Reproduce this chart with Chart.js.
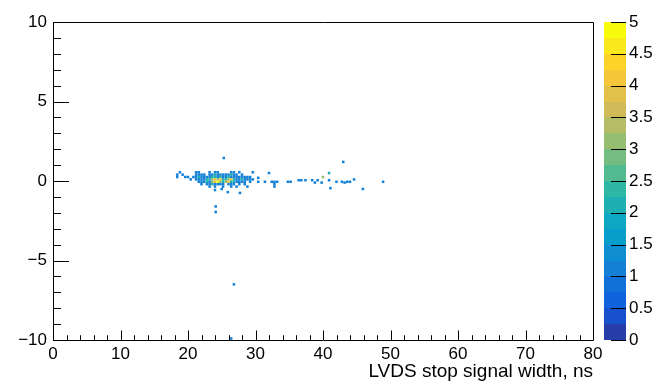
<!DOCTYPE html>
<html><head><meta charset="utf-8">
<script src="https://cdn.jsdelivr.net/npm/chart.js@4.4.1/dist/chart.umd.min.js"></script>
<style>html,body{margin:0;padding:0;background:#fff}#wrap{width:662px;height:386px;position:relative}</style>
</head><body><div id="wrap"><canvas id="c" width="662" height="386"></canvas></div>
<script>
// Axis ranges and tick labels
const xRange = [0, 80];
const yRange = [-10, 10];
const zRange = [0, 5];
const xTickStep = 10;
const yTickStep = 5;
const zTickStep = 0.5;
const xTitle = 'LVDS stop signal width, ns';

// Histogram cells (bin centres) and counts
const cellX = [
  // row y=0.55
  18.8,21.2,21.6,23.2,24.0,24.4,26.4,26.8,27.6,29.6,
  // row y=0.4
  18.4,19.2,21.2,21.6,22.0,22.4,23.2,23.6,24.0,24.4,24.8,25.2,25.6,26.0,26.4,26.8,27.2,28.0,
  // row y=0.25
  18.4,19.6,20.0,20.8,21.2,21.6,22.0,22.4,22.8,23.2,23.6,24.0,24.4,24.8,25.2,25.6,26.0,26.4,26.8,27.2,27.6,28.0,28.4,28.8,29.2,
  // row y=0.1
  20.4,21.2,21.6,22.0,22.4,22.8,23.2,23.6,24.0,24.4,24.8,25.2,25.6,26.0,26.4,26.8,27.2,27.6,28.0,28.4,28.8,29.2,29.6,
  // row y=-0.05
  21.6,22.0,22.4,22.8,23.2,23.6,24.0,24.4,24.8,25.2,25.6,26.0,26.4,26.8,27.2,27.6,28.0,28.4,29.2,
  // row y=-0.2
  22.0,22.8,23.2,23.6,24.0,24.4,24.8,25.2,26.0,26.4,26.8,27.6,28.4,
  // row y=-0.35
  23.2,24.0,25.2,26.4,27.2,28.8,
  // isolated cells
  25.3,24.0,25.0,25.9,27.7,24.1,24.1,26.8,26.4,
  30.4,30.4,31.4,32.0,32.4,32.8,32.8,33.2,32.8,34.8,35.2,36.4,36.8,37.4,38.4,38.8,39.2,39.8,40.0,40.9,40.9,41.1,
  42.0,42.8,43.2,43.6,44.0,44.6,43.0,45.9,48.9
];
const cellY = [
  0.55,0.55,0.55,0.55,0.55,0.55,0.55,0.55,0.55,0.55,
  0.4,0.4,0.4,0.4,0.4,0.4,0.4,0.4,0.4,0.4,0.4,0.4,0.4,0.4,0.4,0.4,0.4,0.4,
  0.25,0.25,0.25,0.25,0.25,0.25,0.25,0.25,0.25,0.25,0.25,0.25,0.25,0.25,0.25,0.25,0.25,0.25,0.25,0.25,0.25,0.25,0.25,0.25,0.25,
  0.1,0.1,0.1,0.1,0.1,0.1,0.1,0.1,0.1,0.1,0.1,0.1,0.1,0.1,0.1,0.1,0.1,0.1,0.1,0.1,0.1,0.1,0.1,
  -0.05,-0.05,-0.05,-0.05,-0.05,-0.05,-0.05,-0.05,-0.05,-0.05,-0.05,-0.05,-0.05,-0.05,-0.05,-0.05,-0.05,-0.05,-0.05,
  -0.2,-0.2,-0.2,-0.2,-0.2,-0.2,-0.2,-0.2,-0.2,-0.2,-0.2,-0.2,-0.2,
  -0.35,-0.35,-0.35,-0.35,-0.35,-0.35,
  1.45,-0.57,-0.5,-0.7,-0.75,-1.6,-1.95,-6.5,-9.9,
  0.2,-0.05,-0.05,0.5,-0.05,-0.05,-0.2,-0.05,-0.35,-0.05,-0.05,0.05,0.05,0.05,0.05,-0.1,0.05,-0.1,0.25,0.5,0.05,-0.45,
  -0.05,-0.05,-0.1,-0.05,-0.05,0.1,1.2,-0.5,-0.05
];
const cellZ = [
  1,1,1,1,1,1,1,1,1,1,
  1,1,1,1,1,1,1,1,2,1,1,1,1,1,2,1,1,1,
  1,1,1,1,1,2,1,1,1,1,2,2,1,2,1,1,2,1,1,1,1,1,1,1,1,
  1,1,1,1,1,2,2,3,4,3,4,2,2,3,4,2,1,1,2,1,1,1,1,
  1,1,1,2,1,3,4,5,3,2,3,4,2,2,1,1,1,1,1,
  1,1,1,2,1,1,1,1,1,1,1,1,1,
  1,1,1,1,1,1,
  1,1,1,1,1,1,1,1,1,
  1,1,1,1,1,1,1,1,1,1,1,1,1,1,1,1,1,1,3,2,1,1,
  1,1,1,1,1,1,1,1,1
];

// ROOT kBird palette
const birdStops = [0,0.125,0.25,0.375,0.5,0.625,0.75,0.875,1];
const birdR = [0.2082,0.0592,0.0780,0.0232,0.1802,0.5301,0.8186,0.9956,0.9764];
const birdG = [0.1664,0.3599,0.5041,0.6419,0.7178,0.7492,0.7328,0.7862,0.9832];
const birdB = [0.5293,0.8684,0.8385,0.7914,0.6425,0.4662,0.3499,0.1968,0.0539];
const nContours = 20;
function birdAt(p){
  p = Math.max(0, Math.min(1, p));
  let i = 0;
  while (i < birdStops.length - 2 && p > birdStops[i+1]) i++;
  const t = (p - birdStops[i]) / (birdStops[i+1] - birdStops[i]);
  const c = a => Math.round(255 * (a[i] + t * (a[i+1] - a[i])));
  return `rgb(${c(birdR)},${c(birdG)},${c(birdB)})`;
}
function bandColor(band){
  let idx = Math.floor((band + 0.99) * 255 / nContours);
  idx = Math.min(254, idx);
  return birdAt(idx / 254);
}
function colorFor(z){
  let band = Math.floor(0.01 + (z - zRange[0]) * nContours / (zRange[1] - zRange[0]));
  band = Math.min(nContours - 1, Math.max(0, band));
  return bandColor(band);
}

const FONT = 'Liberation Sans, Arial, Helvetica, sans-serif';
const minus = v => String(+v).replace('-', '\u2212');

const framePlugin = {
  id: 'rootFrame',
  beforeDatasetsDraw(chart){
    // colour bar
    const {ctx, chartArea} = chart;
    const z = chart.scales.z;
    const x0 = chartArea.right + 11, x1 = chartArea.right + 33;
    ctx.save();
    for (let b = 0; b < nContours; b++){
      const v0 = zRange[0] + b * (zRange[1]-zRange[0]) / nContours;
      const v1 = zRange[0] + (b+1) * (zRange[1]-zRange[0]) / nContours;
      const p0 = z.getPixelForValue(v0), p1 = z.getPixelForValue(v1);
      ctx.fillStyle = bandColor(b);
      ctx.fillRect(x0, Math.round(p1), x1 - x0, Math.round(p0) - Math.round(p1));
    }
    ctx.strokeStyle = '#000';
    ctx.lineWidth = 1;
    ctx.beginPath();
    for (let v = zRange[0]; v <= zRange[1] + 1e-9; v += zTickStep){
      const py = Math.round(z.getPixelForValue(v)) + 0.5;
      ctx.moveTo(x1, py); ctx.lineTo(x1 - 15, py);
    }
    ctx.stroke();
    ctx.restore();
  },
  afterDatasetsDraw(chart){
    const {ctx, chartArea, scales} = chart;
    const {left, right, top, bottom} = chartArea;
    ctx.save();
    ctx.strokeStyle = '#000';
    ctx.lineWidth = 1;
    ctx.beginPath();
    ctx.rect(Math.round(left)+0.5, Math.round(top)+0.5, Math.round(right-left), Math.round(bottom-top));
    // y ticks
    for (let v = yRange[0]; v <= yRange[1] + 1e-9; v += 1){
      const py = Math.round(scales.y.getPixelForValue(v)) + 0.5;
      const len = (v % yTickStep === 0) ? 16 : 8;
      ctx.moveTo(left, py); ctx.lineTo(left + len, py);
    }
    // x ticks
    for (let v = xRange[0]; v <= xRange[1] + 1e-9; v += 2){
      const px = Math.round(scales.x.getPixelForValue(v)) + 0.5;
      const len = (v % xTickStep === 0) ? 9.5 : 4.75;
      ctx.moveTo(px, bottom); ctx.lineTo(px, bottom - len);
    }
    ctx.stroke();
    ctx.restore();
  }
};

const points = cellX.map((x, i) => ({x: x, y: cellY[i]}));

new Chart(document.getElementById('c'), {
  type: 'scatter',
  data: {
    datasets: [{
      data: points,
      pointStyle: 'rect',
      pointRadius: 1.8,
      pointHoverRadius: 1.8,
      pointBorderWidth: 0,
      pointBackgroundColor: cellZ.map(colorFor),
      borderWidth: 0
    }]
  },
  options: {
    responsive: false,
    animation: false,
    events: [],
    layout: {padding: {top: 22, left: 0, right: 0, bottom: 0}},
    plugins: {legend: {display: false}, tooltip: {enabled: false}},
    scales: {
      x: {
        type: 'linear', position: 'bottom', min: xRange[0], max: xRange[1],
        grid: {display: false, drawTicks: false}, border: {display: false},
        ticks: {stepSize: xTickStep, autoSkip: false, maxRotation: 0, padding: 4, color: '#000',
                font: {family: FONT, size: 17}},
        title: {display: true, text: xTitle, align: 'end', color: '#000',
                font: {family: FONT, size: 19}, padding: {top: 0, bottom: 3}},
        afterFit: s => { s.height = 46; }
      },
      y: {
        type: 'linear', position: 'left', min: yRange[0], max: yRange[1],
        grid: {display: false, drawTicks: false}, border: {display: false},
        ticks: {stepSize: yTickStep, autoSkip: false, padding: 6, color: '#000',
                font: {family: FONT, size: 17}, callback: v => minus(v)},
        afterFit: s => { s.width = 53; }
      },
      z: {
        type: 'linear', position: 'right', min: zRange[0], max: zRange[1],
        grid: {display: false, drawTicks: true, tickLength: 33}, border: {display: false},
        ticks: {stepSize: zTickStep, autoSkip: false, padding: 3, color: '#000',
                font: {family: FONT, size: 17}, callback: v => String(+v)},
        afterFit: s => { s.width = 69; }
      }
    }
  },
  plugins: [framePlugin]
});
</script>
</body></html>
